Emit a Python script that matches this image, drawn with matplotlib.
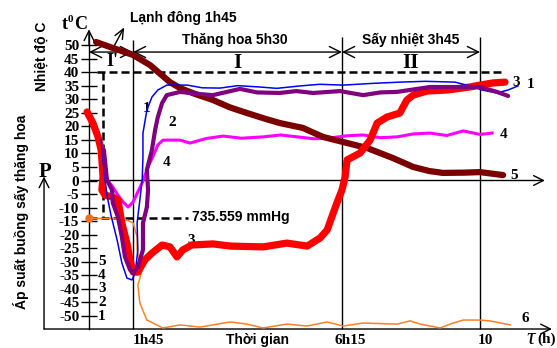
import matplotlib
matplotlib.use("Agg")
import matplotlib.pyplot as plt

# schematic time (h) and temperature (deg C)
t_1 = [0.31, 0.38, 0.46, 0.56, 0.72, 0.84, 0.97, 1.10, 1.18, 1.25, 1.23, 1.30, 1.36, 1.38, 1.38, 1.48,
       1.61, 1.76, 1.99, 2.51, 2.90, 3.35, 3.80, 4.37, 4.80, 5.40, 5.90, 6.50, 7.20, 7.95, 8.60, 9.36,
       9.74, 10.05, 10.43, 10.72, 10.97]
T_1 = [14.9, 3.9, -5.4, -12.7, -22.0, -30.4, -36.0, -36.7, -34.1, -25.6, -15.7, -7.2, 0.2, 8.7, 17.5, 26.0,
       30.8, 33.4, 35.2, 35.2, 34.2, 34.1, 35.0, 34.5, 34.0, 34.9, 35.5, 35.2, 35.8, 36.3, 36.6, 36.3,
       34.9, 33.4, 32.3, 33.4, 34.9]

t_2 = [0.38, 0.46, 0.59, 0.61, 0.74, 0.84, 0.92, 1.05, 1.13, 1.25, 1.38, 1.38, 1.48, 1.51, 1.48, 1.61,
       1.69, 1.76, 1.87, 1.99, 2.33, 2.75, 3.17, 3.86, 4.30, 4.88, 5.30, 5.73, 6.42, 7.01, 7.45, 7.88,
       8.72, 9.57, 10.0, 10.43, 10.72]
T_2 = [11.3, 0.2, -3.5, -8.3, -13.5, -20.8, -28.2, -33.0, -34.1, -31.9, -25.6, -15.7, -9.8, -3.5, 3.9, 11.3,
       18.6, 23.4, 28.6, 31.5, 32.7, 32.0, 31.5, 33.8, 32.5, 32.3, 33.0, 32.3, 33.0, 31.5, 32.5, 32.7,
       34.5, 34.5, 34.5, 32.7, 31.2]

t_3 = [-0.05, 0.10, 0.23, 0.31, 0.33, 0.36, 0.33, 0.41, 0.61, 0.74, 0.84, 0.97, 1.05, 1.13, 1.25, 1.43,
       1.61, 1.87, 2.07, 2.25, 2.40, 2.63, 3.17, 3.61, 4.45, 5.06, 5.58, 5.91, 6.09, 6.21, 6.34, 6.47,
       6.55, 6.60, 6.93, 7.19, 7.37, 7.62, 7.95, 8.13, 8.29, 8.64, 9.16, 9.74, 10.0, 10.33, 10.64]
T_3 = [25.3, 21.2, 16.1, 11.3, 7.6, 1.3, -3.5, -5.4, -6.1, -7.2, -15.7, -23.1, -29.3, -33.8, -33.8, -29.3,
       -26.8, -23.8, -24.5, -28.2, -25.6, -23.8, -23.4, -24.2, -24.5, -23.1, -24.2, -21.2, -18.3, -13.5, -8.3, -3.5,
       1.3, 7.6, 10.1, 14.9, 21.2, 23.4, 24.9, 29.7, 31.5, 33.0, 33.4, 34.5, 35.2, 36.0, 36.3]

t_4 = [0.43, 0.61, 0.74, 0.87, 1.00, 1.13, 1.25, 1.38, 1.51, 1.64, 1.76, 1.89, 2.33, 2.58, 3.0, 3.43,
       3.9, 4.45, 4.9, 5.32, 5.75, 6.16, 6.6, 7.01, 7.45, 7.88, 8.3, 8.72, 9.15, 9.57, 10.0, 10.31]
T_4 = [0.9, -2.4, -5.4, -7.9, -9.8, -7.9, -4.2, -0.2, 5.0, 9.0, 13.1, 14.9, 14.9, 13.8, 15.5, 16.4,
       15.6, 16.1, 16.8, 16.1, 15.4, 15.7, 16.5, 16.8, 15.8, 16.1, 17.2, 17.5, 16.6, 18.3, 17.0, 17.5]

t_5 = [0.18, 0.61, 1.13, 1.56, 2.07, 2.33, 2.70, 3.17, 3.60, 4.04, 4.50, 4.88, 5.47, 5.98, 6.50, 7.11,
       7.77, 8.29, 8.70, 9.05, 9.60, 10.0, 10.59]
T_5 = [51.1, 48.9, 46.3, 42.6, 36.3, 34.1, 32.0, 29.7, 27.0, 24.9, 22.8, 21.2, 19.4, 16.1, 14.2, 12.0,
       8.3, 5.0, 3.5, 2.8, 2.9, 3.1, 2.0]

# pressure curve, drawn on the same scale as the figure does
t_6 = [0, 0.28, 0.54, 0.97, 1.13, 1.23, 1.23, 1.30, 1.36, 1.25, 1.30, 1.48, 1.89, 2.33, 2.84, 3.61,
       4.04, 4.45, 5.06, 5.58, 6.09, 6.50, 7.01, 7.88, 8.21, 8.47, 8.98, 9.31, 9.57, 10.0, 10.26, 10.77]
T_6 = [-14.0, -14.0, -14.0, -14.6, -15.7, -20.8, -25.6, -30.4, -33.0, -38.6, -45.2, -51.5, -54.4, -53.3, -54.1, -52.2,
       -53.0, -54.4, -53.0, -53.7, -52.2, -53.7, -52.6, -53.0, -51.8, -53.0, -54.4, -52.6, -51.5, -51.5, -51.8, -53.3]

temp_ticks = list(range(-50, 55, 5))
press_labels = ['5', '4', '3', '2', '1']
press_pos = [-30, -35, -40, -45, -50]
phase_t = [1.125, 6.47, 10.0]
phase_top = [51.8, 53.0, 53.0]
x_labels = ['1h45', '6h15', '10']
x_label_pos = [1.53, 6.68, 10.13]

SANS = ['Liberation Sans', 'DejaVu Sans']
SERIF = ['Liberation Serif', 'DejaVu Serif']
BASE = -54.8

fig = plt.figure(figsize=(5.57, 3.48), dpi=100)
ax = fig.add_axes([0, 0, 1, 1])
ax.set_xlim(-89 / 39.1, 468 / 39.1)
ax.set_ylim((180.5 - 348) / 2.71, 180.5 / 2.71)
for s in ['top', 'right', 'bottom']:
    ax.spines[s].set_visible(False)
ax.spines['left'].set_position(('data', 0))
ax.spines['left'].set_bounds(BASE, 54)
ax.spines['left'].set_linewidth(1)
ax.set_xticks([])
ax.set_yticks(temp_ticks)
ax.set_yticklabels([str(v) for v in temp_ticks])
ax.tick_params(axis='y', direction='inout', length=12, width=1, pad=1, labelsize=11)
for lb in ax.get_yticklabels():
    lb.set_fontfamily(SERIF)
    lb.set_fontweight('bold')

arr = dict(arrowstyle='->,head_length=0.7,head_width=0.35', lw=1, color='k', shrinkA=0, shrinkB=0)
ax.annotate('', xy=(0, 55.8), xytext=(0, 50), arrowprops=arr)
ax.annotate('', xy=(-1.15, 1.5), xytext=(-1.15, BASE), arrowprops=arr)
ax.annotate('', xy=(11.84, BASE), xytext=(-1.15, BASE), arrowprops=arr)
ax.annotate('', xy=(11.66, 0), xytext=(0, 0), arrowprops=arr)

ax.vlines(phase_t, BASE, phase_top, colors='k', lw=1)

# phase arrows
arr2 = dict(arrowstyle='<->,head_length=0.8,head_width=0.4', lw=1, color='k', shrinkA=0, shrinkB=0)
starts = [0] + phase_t[:-1]
for a, b in zip(starts, phase_t):
    ax.annotate('', xy=(b, 47.4), xytext=(a, 47.4), arrowprops=arr2)
ax.annotate('', xy=(0.9, 56.5), xytext=(0.6, 48.5),
            arrowprops=dict(arrowstyle='->,head_length=0.7,head_width=0.3', lw=1, color='k',
                            shrinkA=0, shrinkB=0))

# dashed guides
dash = dict(color='k', lw=1.8, ls=(0, (3.2, 1.6)))
ax.plot([0.2, 10.64], [40, 40], **dash)
ax.plot([0.36, 0.36], [40, -14], **dash)
ax.plot([0, 2.53], [-14, -14], **dash)

ax.plot(t_6, T_6, color='#FF7F27', lw=1.1, zorder=3)
ax.plot([0], [-14], 'o', color='#F07020', ms=5, zorder=4)
ax.plot(t_4, T_4, color='#FF00FF', lw=2.2, zorder=3)
ax.plot(t_5, T_5, color='#7B0000', lw=4.5, solid_capstyle='round', solid_joinstyle='round', zorder=3)
ax.plot(t_3, T_3, color='#FF0000', lw=5.2, solid_capstyle='round', solid_joinstyle='round', zorder=4)
ax.plot(t_1, T_1, color='#0000FF', lw=1.1, zorder=5)
ax.plot(t_2, T_2, color='#800080', lw=3, solid_capstyle='round', solid_joinstyle='round', zorder=5)

bs = dict(fontfamily=SANS, fontweight='bold', fontsize=10)
sf = dict(fontfamily=SERIF, fontweight='bold')
ax.text(1.05, 59.9, 'Lạnh đông 1h45', ha='left', va='center', **bs)
ax.text(3.73, 51.8, 'Thăng hoa 5h30', ha='center', va='center', **bs)
ax.text(8.24, 51.8, 'Sấy nhiệt 3h45', ha='center', va='center', **bs)
ax.text(2.63, -13.5, '735.559 mmHg', ha='left', va='center', **bs)
ax.text(4.3, -58.9, 'Thời gian', ha='center', va='center', **bs)
ax.text(-1.2, 46, 'Nhiệt độ C', rotation=90, ha='center', va='center', **bs)
ax.text(-1.74, -11.6, 'Áp suất buồng sấy thăng hoa', rotation=90, ha='center', va='center', **bs)

ax.text(3.79, 43.4, 'I', ha='center', va='center', fontsize=15, **sf)
ax.text(8.21, 43.4, 'II', ha='center', va='center', fontsize=15, **sf)
ax.text(0.6, 44, "I'", ha='center', va='center', fontsize=13, **sf)
ax.text(-1.13, 3.3, 'P', ha='center', va='center', fontsize=15, **sf)
ax.text(-0.62, 57.5, 't', ha='center', va='center', fontsize=13, **sf)
ax.text(-0.47, 59.5, '0', ha='center', va='center', fontsize=8, **sf)
ax.text(-0.22, 57.5, 'C', ha='center', va='center', fontsize=13, **sf)
ax.text(11.3, -58.2, 'τ', ha='center', va='center', fontsize=17, fontstyle='italic', fontfamily=SERIF)
ax.text(11.7, -58.5, '(h)', ha='center', va='center', fontsize=11, **sf)

for lbl, x in zip(x_labels, x_label_pos):
    ax.text(x, -59, lbl, ha='center', va='center', fontsize=11, **sf)
for lbl, y in zip(press_labels, press_pos):
    ax.text(0.23, y, lbl, ha='left', va='center', fontsize=11, **sf)

curve_labels = [('1', 1.38, 26.7), ('2', 2.02, 21.5), ('4', 1.89, 6.8), ('3', 2.53, -22.0),
                ('3', 10.82, 36.3), ('1', 11.2, 35.6), ('4', 10.51, 16.8), ('5', 10.77, 2.0),
                ('6', 11.07, -51.0)]
for lbl, x, y in curve_labels:
    ax.text(x, y, lbl, ha='left', va='center', fontsize=11, **sf)

fig.savefig('out.png', dpi=100)
